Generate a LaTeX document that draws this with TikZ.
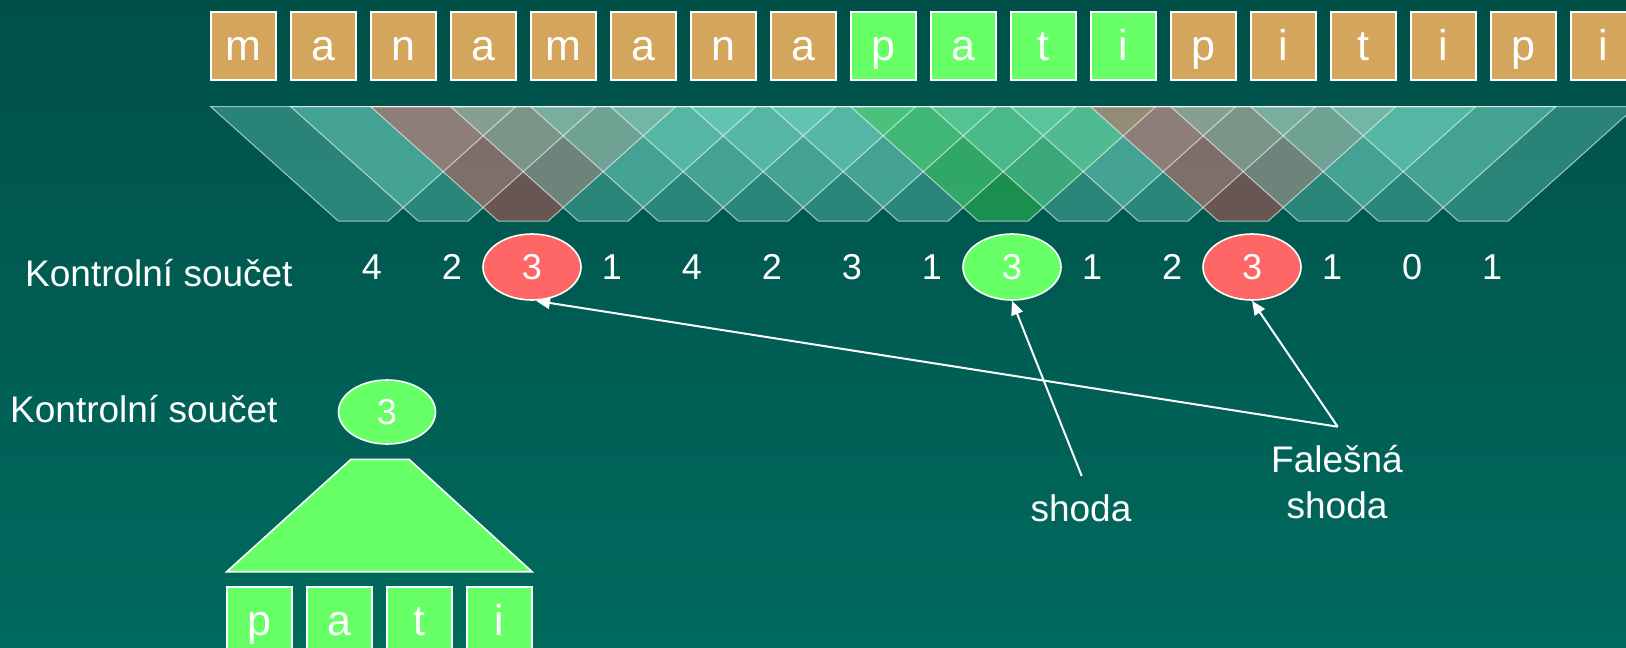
\documentclass[tikz,border=0pt]{standalone}
\usepackage{fontspec}
\setmainfont{Liberation Sans}
\usetikzlibrary{arrows.meta,shapes.geometric}
\definecolor{bgtop}{RGB}{0,80,72}
\definecolor{bgbot}{RGB}{0,106,94}
\definecolor{boxtan}{RGB}{212,165,92}
\definecolor{lgreen}{RGB}{102,255,102}
\definecolor{lred}{RGB}{255,102,102}
\definecolor{winteal}{RGB}{120,220,200}
\definecolor{winred}{RGB}{230,85,85}
\definecolor{wingreen}{RGB}{60,210,80}
\tikzset{
  letterbox/.style={draw=white, line width=1.6pt, minimum width=65pt, minimum height=68pt,
    inner sep=0pt, text=white, font=\fontsize{43}{50}\selectfont, text height=31.6pt, text depth=3.6pt},
  numplain/.style={ellipse, minimum width=98pt, minimum height=66pt, inner sep=0pt,
    text=white, font=\fontsize{36}{43}\selectfont},
  numred/.style={numplain, draw=white, line width=1.6pt, fill=lred},
  numgreen/.style={numplain, draw=white, line width=1.6pt, fill=lgreen},
  lbl/.style={text=white, inner sep=0pt, font=\fontsize{37}{45}\selectfont},
  wteal/.style={fill=winteal, fill opacity=0.35},
  wred/.style={fill=winred, fill opacity=0.45},
  wgreen/.style={fill=wingreen, fill opacity=0.45},
  wedge/.style={draw=white, draw opacity=0.6, line width=1pt},
  arr/.style={draw=white, line width=2pt, -{Triangle[length=14pt,width=12pt]}}
}
\begin{document}
\begin{tikzpicture}[x=1pt,y=-1pt]
\useasboundingbox (0,0) rectangle (1626,648);
\clip (0,0) rectangle (1626,648);
\shade[top color=bgtop, bottom color=bgbot] (0,0) rectangle (1626,648);

% text letters
\foreach \l/\c [count=\i from 0] in {m/boxtan,a/boxtan,n/boxtan,a/boxtan,m/boxtan,a/boxtan,n/boxtan,a/boxtan,p/lgreen,a/lgreen,t/lgreen,i/lgreen,p/boxtan,i/boxtan,t/boxtan,i/boxtan,p/boxtan,i/boxtan}
  \node[letterbox, fill=\c] (t\i) at ({243.2+80*\i},46) {\l};

% hash windows
\foreach \i/\s in {0/wteal,1/wteal,2/wred,3/wteal,4/wteal,5/wteal,6/wteal,7/wteal,8/wgreen,9/wteal,10/wteal,11/wred,12/wteal,13/wteal,14/wteal}
  \fill[\s] ({210.7+80*\i},106.7) -- ({515.7+80*\i},106.7) -- ({388.2+80*\i},221) -- ({338.2+80*\i},221) -- cycle;
\foreach \i in {0,...,14}
  \draw[wedge] ({210.7+80*\i},106.7) -- ({515.7+80*\i},106.7) -- ({388.2+80*\i},221) -- ({338.2+80*\i},221) -- cycle;

% checksums
\node[lbl, anchor=base west] (k1) at (25,286.7) {Kontrolní součet};
\foreach \v/\s [count=\i from 0] in {4/numplain,2/numplain,3/numred,1/numplain,4/numplain,2/numplain,3/numplain,1/numplain,3/numgreen,1/numplain,2/numplain,3/numred,1/numplain,0/numplain,1/numplain}
  \node[\s] (s\i) at ({372+80*\i},267) {\v};

% pattern
\node[lbl, anchor=base west] (k2) at (10,422.7) {Kontrolní součet};
\node[numgreen, minimum width=97pt, minimum height=64pt] (pc) at (387,412) {3};
\draw[white, line width=1.6pt, fill=lgreen] (226.7,571.7) -- (532,571.7) -- (409,459.3) -- (351,459.3) -- cycle;
\foreach \l [count=\i from 0] in {p,a,t,i}
  \node[letterbox, fill=lgreen] (p\i) at ({259.3+80*\i},621) {\l};

% labels and arrows
\node[lbl, anchor=base] (shoda) at (1081,521) {shoda};
\node[lbl, anchor=base] (falA) at (1337,472.7) {Falešná};
\node[lbl, anchor=base] (falB) at (1337,518.3) {shoda};
\coordinate (shodaEnd) at (1081.7,476);
\coordinate (falEnd) at (1337.7,426.7);
\draw[arr] (shodaEnd) -- (s8.south);
\draw[arr] (falEnd) -- (s11.south);
\draw[arr] (falEnd) -- ([xshift=4pt]s2.south);
\end{tikzpicture}
\end{document}
